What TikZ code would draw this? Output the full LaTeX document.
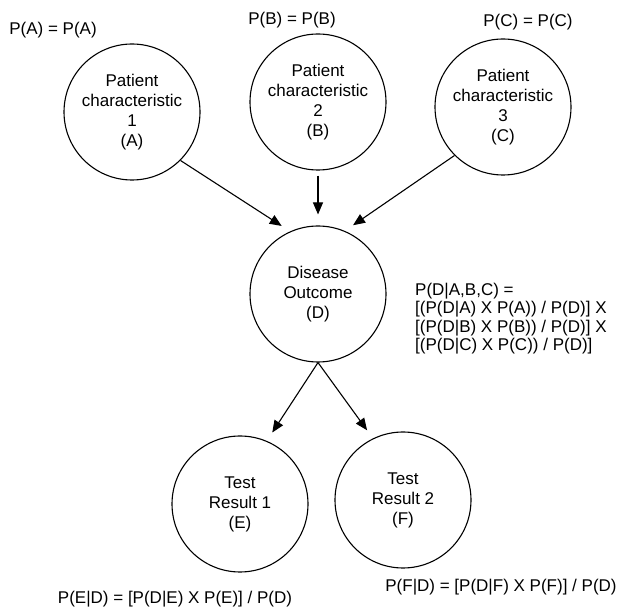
\documentclass[tikz,border=0pt]{standalone}
\usepackage{fontspec}
\setmainfont{Liberation Sans}
\usetikzlibrary{arrows.meta}
\begin{document}
\begin{tikzpicture}[x=1pt,y=-1pt,
  bnode/.style={circle,draw,line width=1.1pt,minimum size=136pt,inner sep=0pt,align=center,
    font={\fontsize{17}{20}\selectfont}},
  lbl/.style={inner sep=0pt,font={\fontsize{17}{18.3}\selectfont}},
  conn/.style={line width=1.1pt,-{Triangle[length=12pt,width=10pt]}}]
\useasboundingbox (0,0) rectangle (619,609);
\node[bnode] (A) at (132,112) {Patient\\characteristic\\1\\(A)};
\node[bnode] (B) at (318,102) {Patient\\characteristic\\2\\(B)};
\node[bnode] (C) at (503,107) {Patient\\characteristic\\3\\(C)};
\node[bnode] (D) at (318,294) {Disease\\Outcome\\(D)};
\node[bnode] (E) at (240,504) {Test\\Result 1\\(E)};
\node[bnode] (F) at (403,500) {Test\\Result 2\\(F)};
\node[lbl] (pA) at (53,30) {P(A) = P(A)};
\node[lbl] (pB) at (292,20) {P(B) = P(B)};
\node[lbl] (pC) at (528,22) {P(C) = P(C)};
\node[lbl,anchor=north west,align=left] (pD) at (415,283)
  {P(D|A,B,C) =\\{[}(P(D|A) X P(A)) / P(D)] X\\{[}(P(D|B) X P(B)) / P(D)] X\\{[}(P(D|C) X P(C)) / P(D)]};
\node[lbl] (pE) at (175,599) {P(E|D) = [P(D|E) X P(E)] / P(D)};
\node[lbl] (pF) at (501,587) {P(F|D) = [P(D|F) X P(F)] / P(D)};
\draw[conn,shorten >=10pt] (A.-45) -- (D.114);
\draw[conn,shorten <=5pt,shorten >=11pt] (B.south) -- (D.north);
\draw[conn,shorten >=10pt] (C.-135) -- (D.67);
\draw[conn,shorten >=10pt] (D.south) -- (E.67);
\draw[conn,shorten >=10pt] (D.south) -- (F.116);
\end{tikzpicture}
\end{document}
